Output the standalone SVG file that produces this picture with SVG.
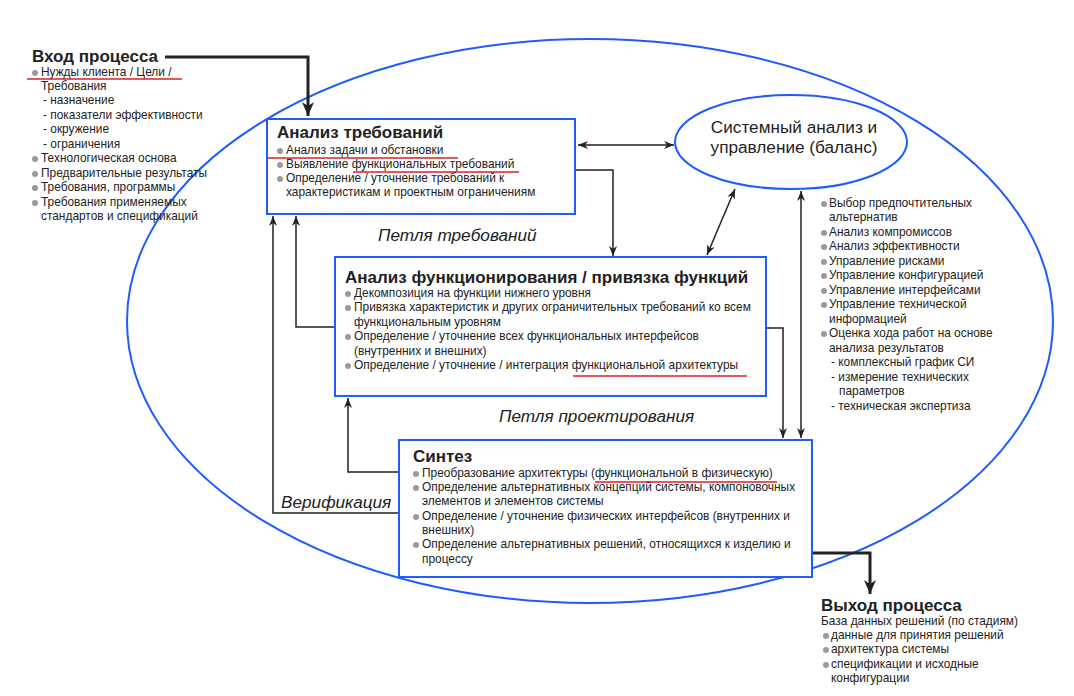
<svg xmlns="http://www.w3.org/2000/svg" width="1074" height="696" viewBox="0 0 1074 696">
<style>
text{font-family:"Liberation Sans",Arial,sans-serif;fill:#222;}
.t{font-size:17px;font-weight:bold;}
.b{font-size:11.9px;}
.i{font-size:17.2px;font-style:italic;}
.e{font-size:17.2px;}
.box{fill:#fff;stroke:#1f5cff;stroke-width:2;}
.ell{fill:none;stroke:#1f5cff;stroke-width:2;}
.c{fill:none;stroke:#222;stroke-width:1.5;}
.ct{fill:none;stroke:#222;stroke-width:3;}
.u{stroke:#d8202a;stroke-width:1.5;}
.d{fill:#9a9a9a;}
</style>
<defs>
<marker id="a" viewBox="0 0 10 8" refX="10" refY="4" markerWidth="10" markerHeight="8" markerUnits="userSpaceOnUse" orient="auto-start-reverse"><path d="M0,0 L10,4 L0,8 L3,4 Z" fill="#222"/></marker>
<marker id="A" viewBox="0 0 14 12" refX="14" refY="6" markerWidth="14" markerHeight="12" markerUnits="userSpaceOnUse" orient="auto"><path d="M0,0 L14,6 L0,12 L4,6 Z" fill="#222"/></marker>
</defs>
<rect width="1074" height="696" fill="#fff"/>
<ellipse class="ell" cx="590" cy="321" rx="463" ry="282"/>
<g id="connectors">
<path class="ct" d="M165,57 H308 V116" marker-end="url(#A)"/>
<path class="c" d="M578,145 H674" marker-start="url(#a)" marker-end="url(#a)"/>
<path class="c" d="M576,170 H613 V256" marker-end="url(#a)"/>
<path class="c" d="M707,255 L735,189" marker-start="url(#a)" marker-end="url(#a)"/>
<path class="c" d="M766,328 H783 V438" marker-end="url(#a)"/>
<path class="c" d="M801,191 V438" marker-start="url(#a)" marker-end="url(#a)"/>
<path class="c" d="M335,327 H296 V216" marker-end="url(#a)"/>
<path class="c" d="M399,513 H273 V216" marker-end="url(#a)"/>
<path class="c" d="M399,472 H348 V398" marker-end="url(#a)"/>
<path class="ct" d="M812,553 H870 V594" marker-end="url(#A)"/>
</g>
<g id="input">
<text class="t" x="32" y="62">Вход процесса</text>
<circle class="d" cx="35" cy="73" r="3"/>
<text class="b" x="41" y="76">Нужды клиента / Цели /</text>
<line class="u" x1="27" y1="79" x2="182" y2="79"/>
<text class="b" x="41" y="90">Требования</text>
<text class="b" x="43" y="104">- назначение</text>
<text class="b" x="43" y="119">- показатели эффективности</text>
<text class="b" x="43" y="133">- окружение</text>
<text class="b" x="43" y="148">- ограничения</text>
<circle class="d" cx="35" cy="159" r="3"/>
<text class="b" x="41" y="162">Технологическая основа</text>
<circle class="d" cx="35" cy="174" r="3"/>
<text class="b" x="41" y="177">Предварительные результаты</text>
<circle class="d" cx="35" cy="188" r="3"/>
<text class="b" x="41" y="191">Требования, программы</text>
<circle class="d" cx="35" cy="203" r="3"/>
<text class="b" x="41" y="206">Требования применяемых</text>
<text class="b" x="41" y="220">стандартов и спецификаций</text>
</g>
<g id="req">
<rect class="box" x="267" y="119" width="308" height="95"/>
<text class="t" x="277" y="138">Анализ требований</text>
<circle class="d" cx="280" cy="151" r="3"/>
<text class="b" x="286" y="154">Анализ задачи и обстановки</text>
<line class="u" x1="268" y1="158" x2="458" y2="158"/>
<circle class="d" cx="280" cy="165" r="3"/>
<text class="b" x="286" y="168">Выявление функциональных требований</text>
<line class="u" x1="353" y1="172" x2="519" y2="172"/>
<circle class="d" cx="280" cy="179" r="3"/>
<text class="b" x="286" y="182">Определение / уточнение требований к</text>
<text class="b" x="286" y="196">характеристикам и проектным ограничениям</text>
</g>
<g id="sys">
<ellipse class="ell" cx="791" cy="142" rx="116" ry="47" fill="#fff"/>
<text class="e" x="794" y="133" text-anchor="middle">Системный анализ и</text>
<text class="e" x="794" y="153" text-anchor="middle">управление (баланс)</text>
</g>
<g id="func">
<rect class="box" x="335" y="257" width="431" height="139"/>
<text class="t" x="345" y="283">Анализ функционирования / привязка функций</text>
<circle class="d" cx="348" cy="294" r="3"/>
<text class="b" x="354" y="297">Декомпозиция на функции нижнего уровня</text>
<circle class="d" cx="348" cy="308" r="3"/>
<text class="b" x="354" y="311">Привязка характеристик и других ограничительных требований ко всем</text>
<text class="b" x="354" y="326">функциональным уровням</text>
<circle class="d" cx="348" cy="337" r="3"/>
<text class="b" x="354" y="340">Определение / уточнение всех функциональных интерфейсов</text>
<text class="b" x="354" y="355">(внутренних и внешних)</text>
<circle class="d" cx="348" cy="366" r="3"/>
<text class="b" x="354" y="369">Определение / уточнение / интеграция функциональной архитектуры</text>
<line class="u" x1="573" y1="376" x2="747" y2="376"/>
</g>
<g id="synth">
<rect class="box" x="399" y="440" width="413" height="137"/>
<text class="t" x="413" y="462">Синтез</text>
<circle class="d" cx="416" cy="474" r="3"/>
<text class="b" x="422" y="477">Преобразование архитектуры (функциональной в физическую)</text>
<line class="u" x1="595" y1="482" x2="777" y2="482"/>
<circle class="d" cx="416" cy="488" r="3"/>
<text class="b" x="422" y="491">Определение альтернативных концепций системы, компоновочных</text>
<text class="b" x="422" y="505">элементов и элементов системы</text>
<circle class="d" cx="416" cy="517" r="3"/>
<text class="b" x="422" y="520">Определение / уточнение физических интерфейсов (внутренних и</text>
<text class="b" x="422" y="534">внешних)</text>
<circle class="d" cx="416" cy="545" r="3"/>
<text class="b" x="422" y="548">Определение альтернативных решений, относящихся к изделию и</text>
<text class="b" x="422" y="563">процессу</text>
</g>
<g id="mgmt">
<circle class="d" cx="824" cy="204" r="3"/>
<text class="b" x="829" y="207">Выбор предпочтительных</text>
<text class="b" x="829" y="221">альтернатив</text>
<circle class="d" cx="824" cy="233" r="3"/>
<text class="b" x="829" y="236">Анализ компромиссов</text>
<circle class="d" cx="824" cy="247" r="3"/>
<text class="b" x="829" y="250">Анализ эффективности</text>
<circle class="d" cx="824" cy="262" r="3"/>
<text class="b" x="829" y="265">Управление рисками</text>
<circle class="d" cx="824" cy="276" r="3"/>
<text class="b" x="829" y="279">Управление конфигурацией</text>
<circle class="d" cx="824" cy="291" r="3"/>
<text class="b" x="829" y="294">Управление интерфейсами</text>
<circle class="d" cx="824" cy="305" r="3"/>
<text class="b" x="829" y="308">Управление технической</text>
<text class="b" x="829" y="323">информацией</text>
<circle class="d" cx="824" cy="334" r="3"/>
<text class="b" x="829" y="337">Оценка хода работ на основе</text>
<text class="b" x="829" y="352">анализа результатов</text>
<text class="b" x="831" y="366">- комплексный график СИ</text>
<text class="b" x="831" y="381">- измерение технических</text>
<text class="b" x="839" y="395">параметров</text>
<text class="b" x="831" y="410">- техническая экспертиза</text>
</g>
<g id="output">
<text class="t" x="821" y="611">Выход процесса</text>
<text class="b" x="821" y="625">База данных решений (по стадиям)</text>
<circle class="d" cx="826" cy="636" r="3"/>
<text class="b" x="831" y="639">данные для принятия решений</text>
<circle class="d" cx="826" cy="650" r="3"/>
<text class="b" x="831" y="653">архитектура системы</text>
<circle class="d" cx="826" cy="665" r="3"/>
<text class="b" x="831" y="668">спецификации и исходные</text>
<text class="b" x="831" y="682">конфигурации</text>
</g>
<g id="labels">
<text class="i" x="378" y="241">Петля требований</text>
<text class="i" x="499" y="422">Петля проектирования</text>
<text class="i" x="281" y="508">Верификация</text>
</g>
</svg>
